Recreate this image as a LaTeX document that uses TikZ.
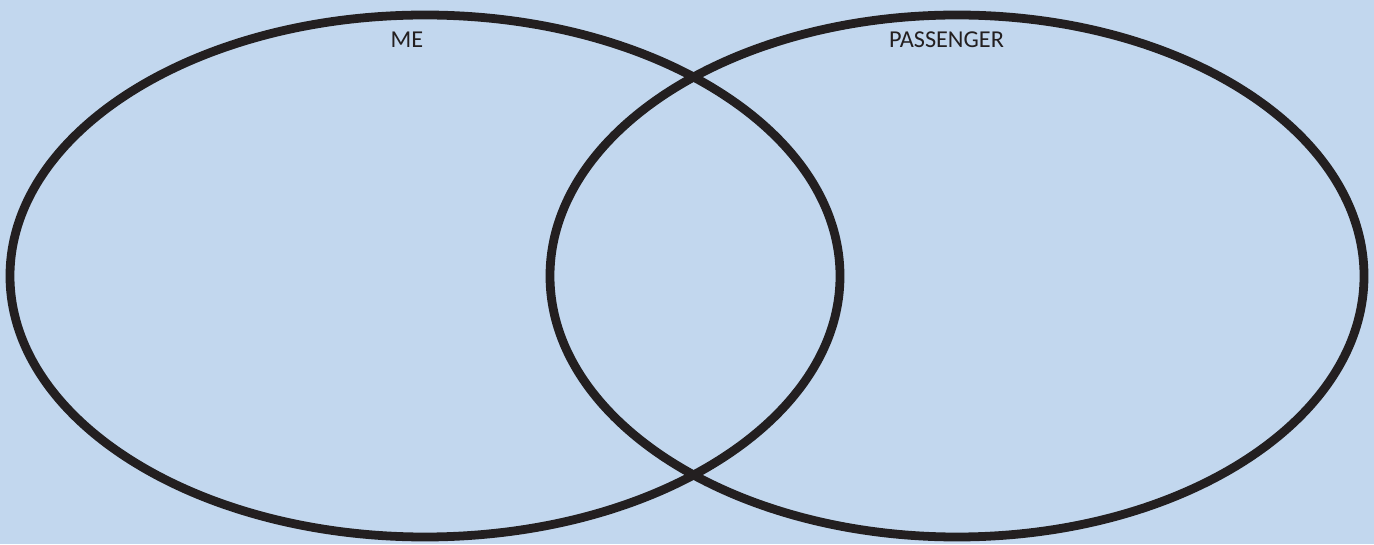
\documentclass[tikz,border=0pt]{standalone}
\usepackage{fontspec}
\setmainfont{Carlito}
\usepackage{xcolor}
\usepackage{tikz}
\definecolor{skyback}{HTML}{C2D7EE}
\definecolor{ringink}{HTML}{231F20}
\tikzset{
  ring/.style={draw=ringink, line width=5pt},
  setlabel/.style={text=ringink, font=\fontsize{13.8}{16}\selectfont, inner sep=0pt}
}

\begin{document}
\begin{tikzpicture}
   			\fill[skyback] (0,0) rectangle (27.48,10.88);
   			\useasboundingbox (0,0) rectangle (27.48,10.88);
   			\coordinate (ME) at (8.50,5.36);
   			\coordinate (PA) at (19.14,5.36);
   	
   			\draw[ring] (ME) ellipse [x radius=8.30cm, y radius=5.22cm];
   			\draw[ring] (PA) ellipse [x radius=8.14cm, y radius=5.22cm];
   			\foreach \name/\x/\y/\label in {
   				me/8.14/10.09/ME,
   				passenger/18.93/10.09/PASSENGER
   			}{
   				\node[setlabel] (\name) at (\x,\y) {\label};
   			}
   		\end{tikzpicture}
\end{document}
